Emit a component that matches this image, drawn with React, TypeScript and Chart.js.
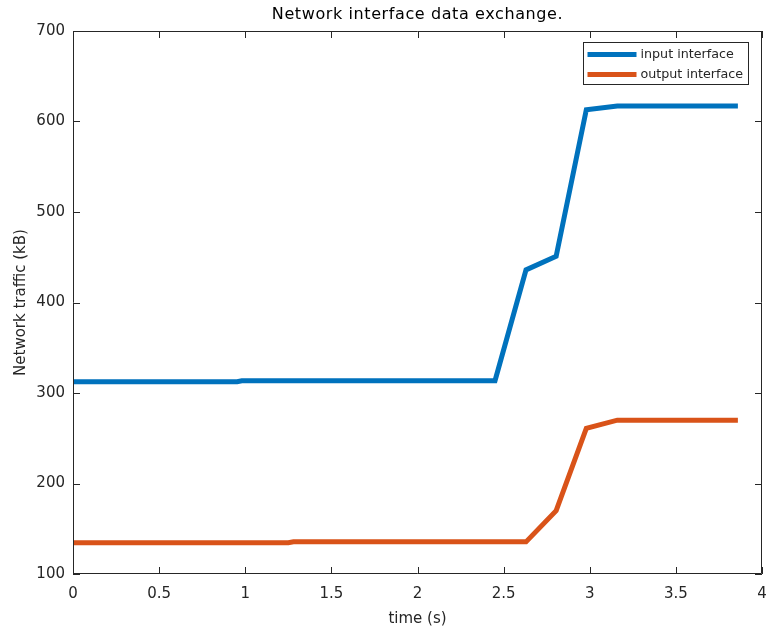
import React, { useEffect, useRef } from "react";
import { Chart, registerables } from "chart.js";

Chart.register(...registerables);

const chartTitle = "Network interface data exchange.";
const xLabel = "time (s)";
const yLabel = "Network traffic (kB)";

const inputTime = [0, 0.953, 0.98, 2.45, 2.63, 2.805, 2.98, 3.16, 3.86];
const inputKB = [312.5, 312.5, 313.5, 313.5, 436, 451, 613, 617, 617];
const outputTime = [0, 1.25, 1.28, 2.63, 2.805, 2.98, 3.16, 3.86];
const outputKB = [134.5, 134.5, 135.5, 135.5, 170, 261, 270, 270];

const seriesNames = ["input interface", "output interface"];
const seriesColors = ["#0072BD", "#D95319"];

const xTicks = [0, 0.5, 1, 1.5, 2, 2.5, 3, 3.5, 4];
const yTicks = [100, 200, 300, 400, 500, 600, 700];

const FONT = "'DejaVu Sans', sans-serif";
const AXIS_COLOR = "#262626";

const matlabPlugin = {
  id: "matlabBox",
  afterDraw(chart: any) {
    const { ctx, chartArea: a, scales } = chart;
    const x = scales.x;
    const y = scales.y;
    ctx.save();
    ctx.strokeStyle = AXIS_COLOR;
    ctx.lineWidth = 1;
    ctx.beginPath();
    ctx.rect(Math.round(a.left) + 0.5, Math.round(a.top) + 0.5, Math.round(a.width) - 1, Math.round(a.height) - 1);
    ctx.stroke();
    const tl = 7;
    ctx.beginPath();
    xTicks.forEach((v) => {
      const px = Math.round(x.getPixelForValue(v)) + 0.5;
      ctx.moveTo(px, a.bottom);
      ctx.lineTo(px, a.bottom - tl);
      ctx.moveTo(px, a.top);
      ctx.lineTo(px, a.top + tl);
    });
    yTicks.forEach((v) => {
      const py = Math.round(y.getPixelForValue(v)) + 0.5;
      ctx.moveTo(a.left, py);
      ctx.lineTo(a.left + tl, py);
      ctx.moveTo(a.right, py);
      ctx.lineTo(a.right - tl, py);
    });
    ctx.stroke();

    // title
    ctx.fillStyle = "#000";
    ctx.font = `16px ${FONT}`;
    (ctx as any).letterSpacing = "0.6px";
    ctx.textAlign = "center";
    ctx.textBaseline = "middle";
    ctx.fillText(chartTitle, (a.left + a.right) / 2, 15);
    (ctx as any).letterSpacing = "0px";

    // legend
    const lw = 165;
    const lh = 42;
    const lx = Math.round(a.right - 14 - lw) + 0.5;
    const ly = Math.round(a.top + 11) + 0.5;
    ctx.fillStyle = "#fff";
    ctx.fillRect(lx, ly, lw, lh);
    ctx.strokeStyle = AXIS_COLOR;
    ctx.lineWidth = 1;
    ctx.strokeRect(lx, ly, lw, lh);
    ctx.font = `12.7px ${FONT}`;
    ctx.textAlign = "left";
    chart.data.datasets.forEach((ds: any, i: number) => {
      const cy = ly + 12 + i * 20;
      ctx.strokeStyle = ds.borderColor;
      ctx.lineWidth = 5;
      ctx.beginPath();
      ctx.moveTo(lx + 4, cy);
      ctx.lineTo(lx + 53, cy);
      ctx.stroke();
      ctx.fillStyle = AXIS_COLOR;
      ctx.fillText(ds.label, lx + 57, cy);
    });
    ctx.restore();
  },
};

export default function App() {
  const ref = useRef<HTMLCanvasElement>(null);
  useEffect(() => {
    document.body.style.margin = "0";
    const canvas = ref.current!;
    const chart = new Chart(canvas, {
      type: "line",
      data: {
        datasets: [
          {
            label: seriesNames[0],
            data: inputTime.map((t, i) => ({ x: t, y: inputKB[i] })),
            borderColor: seriesColors[0],
            backgroundColor: seriesColors[0],
            borderWidth: 5,
            pointRadius: 0,
            tension: 0,
            borderJoinStyle: "miter",
          },
          {
            label: seriesNames[1],
            data: outputTime.map((t, i) => ({ x: t, y: outputKB[i] })),
            borderColor: seriesColors[1],
            backgroundColor: seriesColors[1],
            borderWidth: 5,
            pointRadius: 0,
            tension: 0,
            borderJoinStyle: "miter",
          },
        ],
      },
      options: {
        responsive: false,
        animation: false,
        layout: { padding: { top: 31, right: 10, left: 0, bottom: 0 } },
        plugins: {
          legend: { display: false },
          title: { display: false },
          tooltip: { enabled: false },
        },
        scales: {
          x: {
            type: "linear",
            min: 0,
            max: 4,
            afterBuildTicks: (s: any) => {
              s.ticks = xTicks.map((v) => ({ value: v }));
            },
            afterFit: (s: any) => {
              s.height = 56;
              s.paddingRight = 0;
              s.paddingLeft = 0;
            },
            grid: { display: false, drawTicks: false },
            border: { display: false },
            ticks: {
              color: AXIS_COLOR,
              font: { family: FONT, size: 15 },
              padding: 11,
              maxRotation: 0,
              callback: (v: any) => String(v),
            },
            title: {
              display: true,
              text: xLabel,
              color: AXIS_COLOR,
              font: { family: FONT, size: 15 },
              padding: { top: 0, bottom: 2 },
            },
          },
          y: {
            type: "linear",
            min: 100,
            max: 700,
            afterBuildTicks: (s: any) => {
              s.ticks = yTicks.map((v) => ({ value: v }));
            },
            afterFit: (s: any) => {
              s.width = 73;
              s.paddingTop = 0;
              s.paddingBottom = 0;
            },
            grid: { display: false, drawTicks: false },
            border: { display: false },
            ticks: {
              color: AXIS_COLOR,
              font: { family: FONT, size: 15 },
              padding: 8,
              callback: (v: any) => String(v),
            },
            title: {
              display: true,
              text: yLabel,
              color: AXIS_COLOR,
              font: { family: FONT, size: 15 },
              padding: { top: 12, bottom: 0 },
            },
          },
        },
      },
      plugins: [matlabPlugin],
    });
    return () => chart.destroy();
  }, []);
  return (
    <div style={{ position: "fixed", left: 0, top: 0, width: 772, height: 630, background: "#fff" }}>
      <canvas ref={ref} width={772} height={630} style={{ display: "block" }} />
    </div>
  );
}
